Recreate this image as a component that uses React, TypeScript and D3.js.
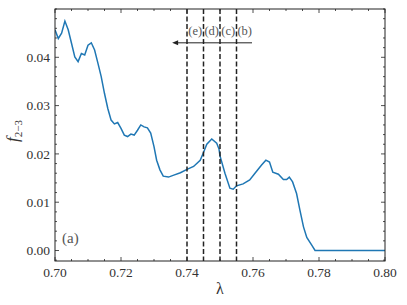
import React, { useEffect, useRef } from "react";
import * as d3 from "d3";

// lambda values and f_{2-3}
const lambdas = [
  0.7, 0.701, 0.702, 0.703, 0.704, 0.705, 0.706, 0.707, 0.708, 0.709, 0.71,
  0.711, 0.712, 0.713, 0.714, 0.715, 0.716, 0.717, 0.718, 0.719, 0.72, 0.721,
  0.722, 0.723, 0.724, 0.725, 0.726, 0.727, 0.728, 0.729, 0.73, 0.7308, 0.7318,
  0.7328, 0.7344, 0.736, 0.738, 0.74, 0.742, 0.744, 0.745, 0.746, 0.7475,
  0.749, 0.7497, 0.75, 0.7515, 0.753, 0.754, 0.755, 0.757, 0.759, 0.7606,
  0.7626, 0.7639, 0.765, 0.766, 0.7677, 0.7692, 0.7702, 0.771, 0.772, 0.7732,
  0.7742, 0.7753, 0.7763, 0.7778, 0.7788, 0.79, 0.8,
];
const fValues = [
  0.0457, 0.0439, 0.045, 0.0475, 0.0457, 0.0429, 0.0401, 0.0391, 0.0408,
  0.0405, 0.0425, 0.043, 0.0415, 0.0388, 0.036, 0.0325, 0.0294, 0.027, 0.0262,
  0.0265, 0.0253, 0.0239, 0.0236, 0.0241, 0.0239, 0.0249, 0.026, 0.0256,
  0.0254, 0.0243, 0.0215, 0.0187, 0.0167, 0.0154, 0.0152, 0.0156, 0.0161,
  0.0168, 0.0174, 0.0187, 0.0203, 0.022, 0.0231, 0.0222, 0.021, 0.0196, 0.016,
  0.0129, 0.0127, 0.0134, 0.0138, 0.0146, 0.016, 0.0177, 0.0187, 0.0183,
  0.0162, 0.0158, 0.0147, 0.0147, 0.0152, 0.0142, 0.0118, 0.0084, 0.0049,
  0.0027, 0.0011, 0.0, 0.0, 0.0,
];

const markers = [0.74, 0.745, 0.75, 0.755];
const markerLabels = ["(e)", "(d)", "(c)", "(b)"];
const xTicks = [0.7, 0.72, 0.74, 0.76, 0.78, 0.8];
const yTicks = [0.0, 0.01, 0.02, 0.03, 0.04];
const arrowFrom = 0.7597;
const arrowTo = 0.7355;
const arrowY = 0.043;

const App = () => {
  const ref = useRef<SVGSVGElement>(null);

  useEffect(() => {
    const svg = d3.select(ref.current);
    svg.selectAll("*").remove();
    const margin = { top: 9, right: 22, bottom: 44, left: 55 },
      width = 385 - margin.left,
      height = 261 - margin.top;
    const font = "Liberation Serif";
    const g = svg
      .append("g")
      .attr("transform", `translate(${margin.left},${margin.top})`);

    const x = d3.scaleLinear().domain([0.7, 0.8]).range([0, width]);
    const y = d3.scaleLinear().domain([-0.00217, 0.05]).range([height, 0]);

    // clip for data
    g.append("defs")
      .append("clipPath")
      .attr("id", "plotclip")
      .append("rect")
      .attr("width", width)
      .attr("height", height);

    // minor + major ticks on all four sides, pointing inwards
    const xMinor = d3.range(0, 21).map((i) => 0.7 + i * 0.005);
    const yMinor = d3.range(-1, 26).map((i) => i * 0.002);
    const tk = g.append("g").attr("stroke", "#222").attr("stroke-width", 0.8);
    xMinor.forEach((v) => {
      const major = xTicks.some((t) => Math.abs(t - v) < 1e-9);
      const len = major ? 4 : 2;
      tk.append("line").attr("x1", x(v)).attr("x2", x(v)).attr("y1", height).attr("y2", height - len);
      tk.append("line").attr("x1", x(v)).attr("x2", x(v)).attr("y1", 0).attr("y2", len);
    });
    yMinor.forEach((v) => {
      if (y(v) > height || y(v) < 0) return;
      const major = yTicks.some((t) => Math.abs(t - v) < 1e-9);
      const len = major ? 4 : 2;
      tk.append("line").attr("x1", 0).attr("x2", len).attr("y1", y(v)).attr("y2", y(v));
      tk.append("line").attr("x1", width).attr("x2", width - len).attr("y1", y(v)).attr("y2", y(v));
    });

    // tick labels
    g.append("g")
      .selectAll("text")
      .data(xTicks)
      .join("text")
      .attr("x", (d) => x(d))
      .attr("y", height + 16)
      .attr("text-anchor", "middle")
      .attr("font-family", font)
      .attr("font-size", 13.5)
      .attr("fill", "#333")
      .text((d) => d3.format(".2f")(d));
    g.append("g")
      .selectAll("text")
      .data(yTicks)
      .join("text")
      .attr("x", -5)
      .attr("y", (d) => y(d))
      .attr("dy", "0.35em")
      .attr("text-anchor", "end")
      .attr("font-family", font)
      .attr("font-size", 13.5)
      .attr("fill", "#333")
      .text((d) => d3.format(".2f")(d));

    // data line
    const pts = lambdas.map((l, i) => [l, fValues[i]] as [number, number]);
    g.append("path")
      .datum(pts)
      .attr("clip-path", "url(#plotclip)")
      .attr("fill", "none")
      .attr("stroke", "#1f77b4")
      .attr("stroke-width", 1.5)
      .attr(
        "d",
        d3
          .line<[number, number]>()
          .x((d) => x(d[0]))
          .y((d) => y(d[1]))
      );

    // dashed markers
    g.append("g")
      .selectAll("line")
      .data(markers)
      .join("line")
      .attr("x1", (d) => x(d))
      .attr("x2", (d) => x(d))
      .attr("y1", 0)
      .attr("y2", height)
      .attr("stroke", "#222")
      .attr("stroke-width", 1.5)
      .attr("stroke-dasharray", "5,2.5");

    g.append("g")
      .selectAll("text")
      .data(markerLabels)
      .join("text")
      .attr("x", (d, i) => x(markers[i] + 0.0025))
      .attr("y", 25.5)
      .attr("text-anchor", "middle")
      .attr("font-family", font)
      .attr("font-size", 12.5)
      .attr("fill", "#555")
      .text((d) => d);

    // arrow
    g.append("line")
      .attr("x1", x(arrowFrom))
      .attr("x2", x(arrowTo) + 4)
      .attr("y1", y(arrowY))
      .attr("y2", y(arrowY))
      .attr("stroke", "#222")
      .attr("stroke-width", 1);
    g.append("path")
      .attr("d", `M${x(arrowTo)},${y(arrowY)} l6,-2.5 l0,5 z`)
      .attr("fill", "#222");

    // panel label
    g.append("text")
      .attr("x", 7)
      .attr("y", y(0) - 8)
      .attr("font-family", font)
      .attr("font-size", 15)
      .attr("fill", "#555")
      .text("(a)");

    // frame
    g.append("rect")
      .attr("width", width)
      .attr("height", height)
      .attr("fill", "none")
      .attr("stroke", "#222")
      .attr("stroke-width", 1);

    // axis titles
    g.append("text")
      .attr("x", width / 2)
      .attr("y", height + 33)
      .attr("text-anchor", "middle")
      .attr("font-family", font)
      .attr("font-size", 16)
      .attr("fill", "#333")
      .text("λ");
    const yl = g
      .append("text")
      .attr("transform", `translate(-37,${height / 2 - 4}) rotate(-90)`)
      .attr("text-anchor", "middle")
      .attr("font-family", font)
      .attr("font-style", "italic")
      .attr("font-size", 17)
      .attr("fill", "#333");
    yl.append("tspan").text("f");
    yl.append("tspan")
      .attr("font-size", 11)
      .attr("font-style", "normal")
      .attr("dy", 4)
      .text("2−3");
  }, []);

  return (
    <svg
      ref={ref}
      width={407}
      height={305}
      style={{ position: "absolute", left: 0, top: 0, background: "#fff" }}
    />
  );
};

export default App;
